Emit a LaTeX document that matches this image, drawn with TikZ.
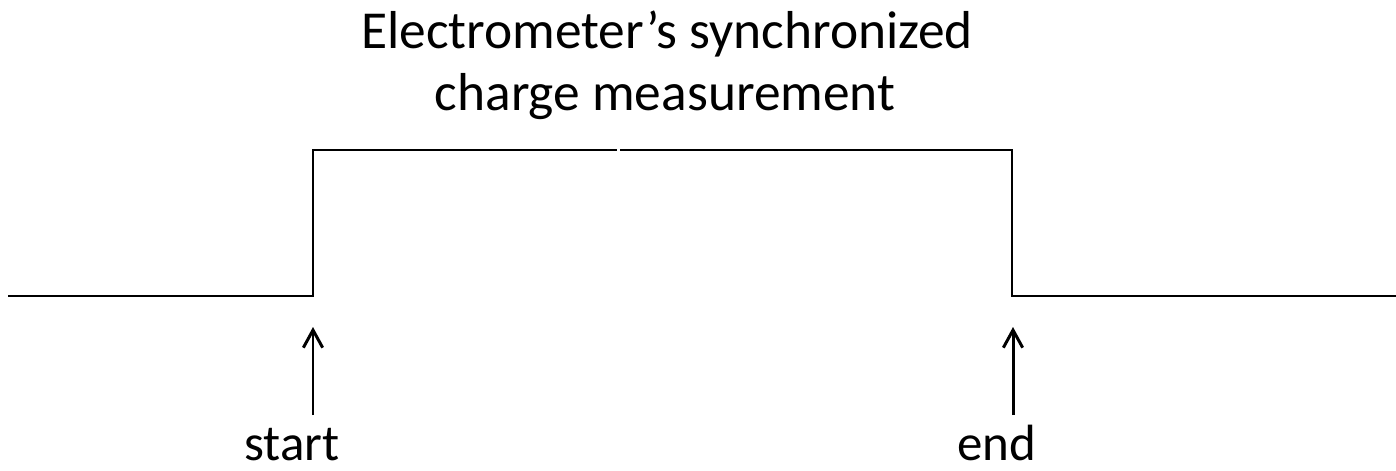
\documentclass[tikz,border=0pt]{standalone}
\usepackage{fontspec}
\setmainfont{Carlito}
\usetikzlibrary{arrows.meta}

\begin{document}
\begin{tikzpicture}[x=0.02cm,y=-0.02cm,line width=1.6pt,>={Straight Barb[length=10pt,width=11pt]},
  lbl/.style={font=\fontsize{29}{35}\selectfont,anchor=base,inner sep=0pt},
  ttl/.style={lbl,font=\fontsize{30.4}{36}\selectfont}]
  \useasboundingbox (0,0) rectangle (1396,470);
  % pulse
  \coordinate (a0) at (8,296);
  \coordinate (r0) at (313,296);
  \coordinate (r1) at (313,150);
  \coordinate (g0) at (617,150);
  \coordinate (g1) at (620,150);
  \coordinate (f1) at (1012,150);
  \coordinate (f0) at (1012,296);
  \coordinate (a1) at (1396,296);
  \draw (a0)--(r0)--(r1)--(g0);
  \draw (g1)--(f1)--(f0)--(a1);
  % title
  \node[ttl] (title1) at (667,48) {Electrometer’s synchronized};
  \node[ttl] (title2) at (665,110) {charge measurement};
  % markers
  \node[lbl] (start) at (292,460) {start};
  \node[lbl] (end) at (997,460) {end};
  \coordinate (s0) at (313,415); \coordinate (s1) at (313,327);
  \coordinate (e0) at (1013,415); \coordinate (e1) at (1013,327);
  \draw[->,line width=1.7pt] (s0)--(s1);
  \draw[->,line width=1.7pt] (e0)--(e1);
\end{tikzpicture}
\end{document}
